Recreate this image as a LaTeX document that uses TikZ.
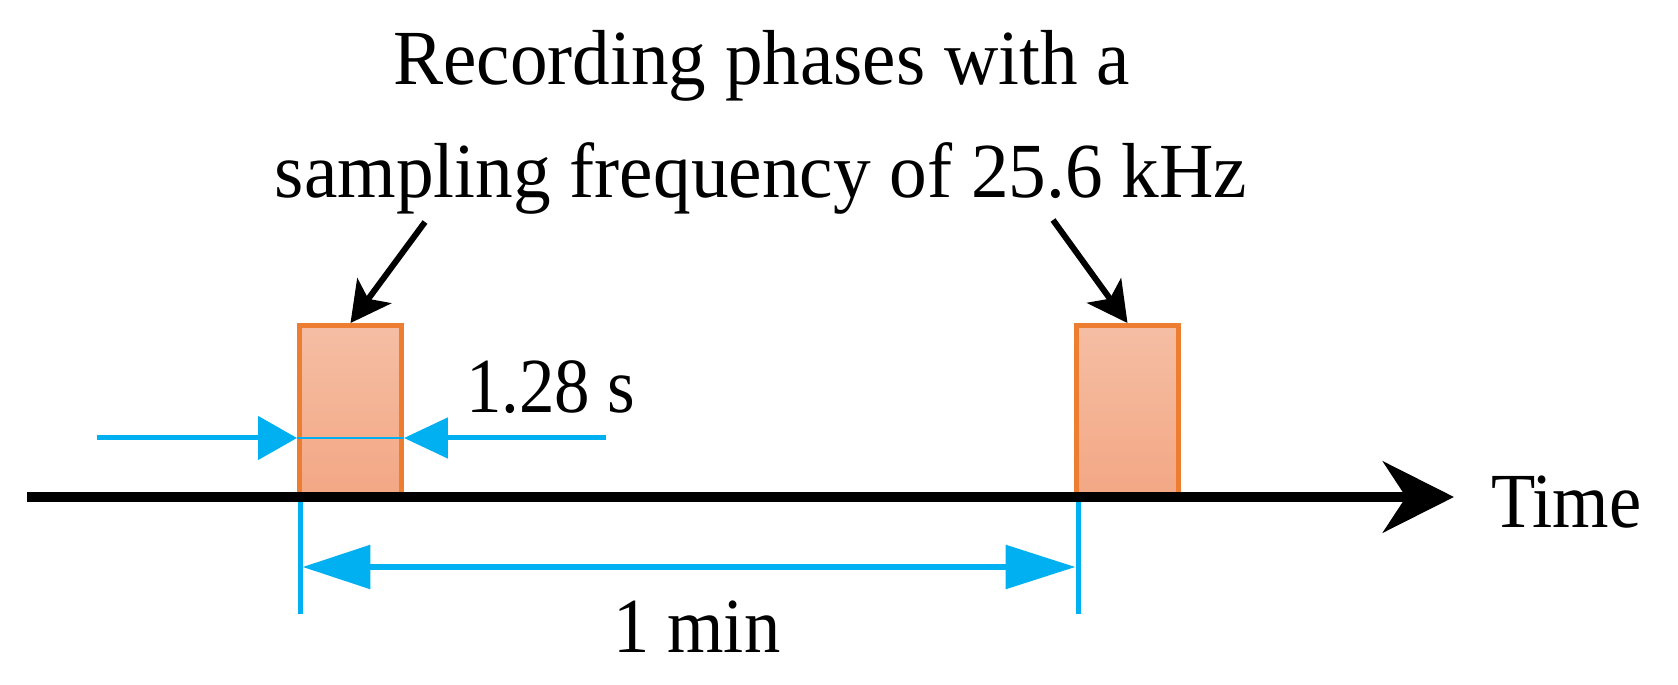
\documentclass[tikz,border=0pt]{standalone}
\usepackage{fontspec}
\setmainfont{Liberation Serif}
\usetikzlibrary{arrows.meta}
\definecolor{phaseorange}{HTML}{ED7D31}
\definecolor{dimblue}{HTML}{00B0F0}
\definecolor{phasetop}{HTML}{F5BEA4}
\definecolor{phasebot}{HTML}{F3A784}
\begin{document}
\begin{tikzpicture}[x=0.02cm,y=-0.02cm,
  phase/.style={draw=phaseorange, line width=0.1cm, top color=phasetop, bottom color=phasebot,
    minimum width=2.04cm, minimum height=3.42cm, inner sep=0pt, outer sep=0.05cm},
  lbl/.style={inner sep=0pt, outer sep=0pt, font=\fontsize{44.4}{53}\selectfont},
  pointer/.style={line width=0.12cm, -{Stealth[length=0.8cm,width=0.84cm,inset=0.2cm]}},
  dimline/.style={draw=dimblue, line width=0.1cm},
  axisline/.style={line width=0.2cm, -{Stealth[length=1.42cm,width=1.42cm,inset=0.46cm]}}
]
\useasboundingbox (0,0) rectangle (1678,685);
% recording phases
\node[phase] (box1) at (350.5,411) {};
\node[phase] (box2) at (1127.5,411) {};
% vertical markers
\coordinate (v1t) at (300,497);
\coordinate (v1b) at (300,614);
\coordinate (v2t) at (1078,497);
\coordinate (v2b) at (1078,614);
\draw[dimline] (v1t) -- (v1b);
\draw[dimline] (v2t) -- (v2b);
% time axis
\coordinate (axstart) at (27,497);
\coordinate (axend) at (1454,497);
\draw[axisline] (axstart) -- (axend);
\node[lbl, anchor=base west] (time) at (1491,528) {\scalebox{0.93}[1]{Time}};
% 1.28 s dimension
\coordinate (l128) at (97,438);
\coordinate (r128) at (606,438);
\draw[dimblue, line width=1.2pt] (box1.west |- l128) -- (box1.east |- l128);
\draw[dimline, -{Triangle[length=0.78cm,width=0.86cm]}] (l128) -- (box1.west |- l128);
\draw[dimline, -{Triangle[length=0.88cm,width=0.8cm]}] (r128) -- (box1.east |- r128);
\node[lbl, anchor=base west] (dur) at (466,413) {\scalebox{0.91}[1]{1.28 s}};
% 1 min dimension
\coordinate (m1) at (302.5,567);
\coordinate (m2) at (1075.5,567);
\draw[dimblue, line width=0.12cm, {Triangle[length=1.36cm,width=0.86cm]}-{Triangle[length=1.4cm,width=0.86cm]}] (m1) -- (m2);
\node[lbl, anchor=base west] (period) at (613,653) {\scalebox{0.93}[1]{1 min}};
% title
\node[lbl, anchor=base] (title1) at (761.5,85) {\scalebox{0.963}[1]{Recording phases with a}};
\node[lbl, anchor=base] (title2) at (761,198) {\scalebox{0.965}[1]{sampling frequency of 25.6 kHz}};
% pointers
\coordinate (p1) at (425,222);
\coordinate (p2) at (1053,220);
\draw[pointer] (p1) -- (box1.north);
\draw[pointer] (p2) -- (box2.north);
\end{tikzpicture}
\end{document}
